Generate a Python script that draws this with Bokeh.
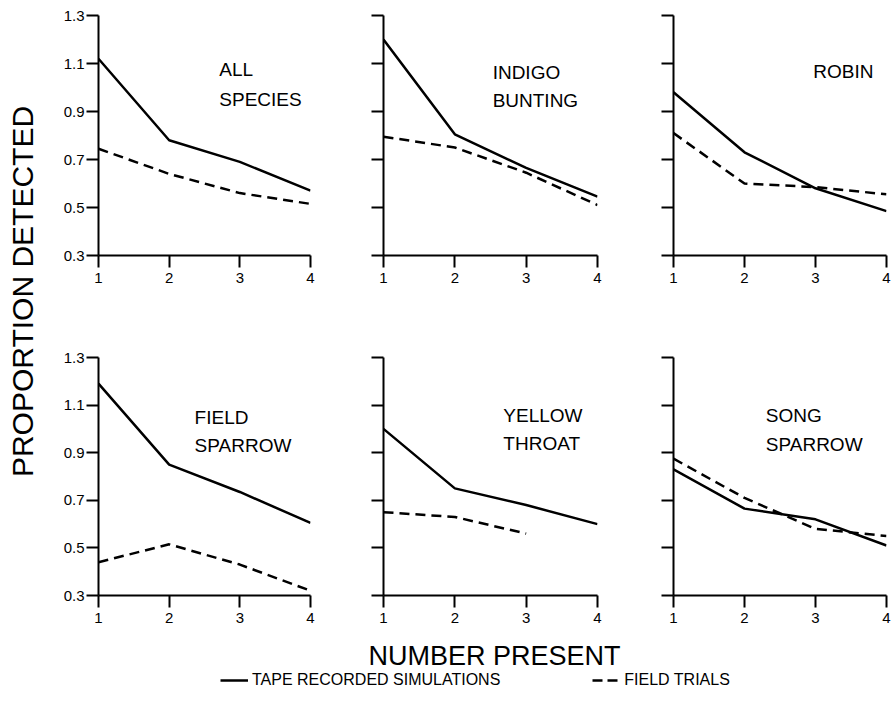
from bokeh.plotting import figure
from bokeh.layouts import row, column
from bokeh.models import Range1d, FixedTicker, Label, Legend, LegendItem
from bokeh.embed import file_html
from bokeh.resources import INLINE

# ---------------- data ----------------
number_present = [1, 2, 3, 4]
y_ticks = [0.3, 0.5, 0.7, 0.9, 1.1, 1.3]

all_species_tape = [1.12, 0.78, 0.69, 0.57]
all_species_field = [0.745, 0.64, 0.56, 0.515]
indigo_tape = [1.20, 0.805, 0.665, 0.545]
indigo_field = [0.795, 0.75, 0.645, 0.51]
robin_tape = [0.98, 0.73, 0.58, 0.485]
robin_field = [0.81, 0.60, 0.585, 0.555]
field_sparrow_tape = [1.19, 0.85, 0.735, 0.605]
field_sparrow_field = [0.44, 0.515, 0.43, 0.32]
yellowthroat_tape = [1.0, 0.75, 0.68, 0.60]
yellowthroat_field = [0.65, 0.63, 0.56]
song_sparrow_tape = [0.83, 0.665, 0.62, 0.51]
song_sparrow_field = [0.875, 0.71, 0.58, 0.55]

panel_names = [["ALL", "SPECIES"], ["INDIGO", "BUNTING"], ["ROBIN"],
               ["FIELD", "SPARROW"], ["YELLOW", "THROAT"], ["SONG", "SPARROW"]]
tape_series = [all_species_tape, indigo_tape, robin_tape,
               field_sparrow_tape, yellowthroat_tape, song_sparrow_tape]
field_series = [all_species_field, indigo_field, robin_field,
                field_sparrow_field, yellowthroat_field, song_sparrow_field]

legend_labels = ["TAPE RECORDED SIMULATIONS", "FIELD TRIALS"]

# label anchor positions (layout only)
label_x = [2.71, 2.53, 2.97, 2.36, 2.68, 2.30]
label_y = [[1.075, 0.95], [1.0625, 0.946], [1.067], [1.048, 0.93], [1.056, 0.939], [1.056, 0.935]]

FONT = "Liberation Sans"
FRAME_W = [212, 214, 213]
BORDER_L = [60, 30, 30]
BORDER_R = [43, 46, 5]

def make_panel(i, height, top, bottom):
    c = i % 3
    left, right, fw = BORDER_L[c], BORDER_R[c], FRAME_W[c]
    p = figure(width=left + fw + right, height=height,
               x_range=Range1d(1, 4), y_range=Range1d(0.3, 1.3),
               output_backend="svg", toolbar_location=None,
               min_border_left=left, min_border_right=right,
               min_border_top=top, min_border_bottom=bottom)
    p.outline_line_color = None
    p.grid.visible = False
    p.background_fill_color = "white"
    for ax in (p.xaxis[0], p.yaxis[0]):
        ax.axis_line_width = 2
        ax.axis_line_color = "black"
        ax.major_tick_line_width = 2
        ax.major_tick_line_color = "black"
        ax.major_tick_in = 0
        ax.major_tick_out = 12
        ax.minor_tick_line_color = None
        ax.major_label_text_font = FONT
        ax.major_label_text_font_size = "15px"
        ax.major_label_text_color = "black"
    p.xaxis.ticker = FixedTicker(ticks=number_present)
    p.yaxis.ticker = FixedTicker(ticks=y_ticks)
    p.xaxis.major_label_standoff = 5
    p.yaxis.major_label_standoff = 2
    if c != 0:
        p.yaxis.major_label_text_font_size = "0px"
        p.yaxis.major_label_text_color = None

    p.line(number_present, tape_series[i], line_color="black", line_width=2.5)
    fx = number_present[:len(field_series[i])]
    p.line(fx, field_series[i], line_color="black", line_width=2.5, line_dash="10 6")

    for j, name in enumerate(panel_names[i]):
        p.add_layout(Label(x=label_x[i], y=label_y[i][j], text=name,
                           text_font=FONT, text_font_size="19px",
                           text_color="black", text_align="left",
                           text_baseline="alphabetic"))
    return p

top_panels = [make_panel(i, 305, 15, 50) for i in range(3)]
bot_panels = [make_panel(i, 326, 52, 36) for i in range(3, 6)]

# y-axis title
ylab = figure(width=38, height=631, x_range=Range1d(0, 38), y_range=Range1d(0, 631),
              output_backend="svg", toolbar_location=None, min_border=0)
ylab.axis.visible = False
ylab.grid.visible = False
ylab.outline_line_color = None
ylab.add_layout(Label(x=22, y=340, text="PROPORTION DETECTED", angle=1.5708,
                      text_font=FONT, text_font_size="30px", text_color="black",
                      text_align="center", text_baseline="middle"))

# bottom: x-axis title + legend
bot = figure(width=853, height=62, x_range=Range1d(0, 853), y_range=Range1d(0, 62),
             output_backend="svg", toolbar_location=None, min_border=0)
bot.axis.visible = False
bot.grid.visible = False
bot.outline_line_color = None
bot.add_layout(Label(x=456, y=38, text="NUMBER PRESENT", text_font=FONT,
                     text_font_size="27px", text_color="black",
                     text_align="center", text_baseline="alphabetic"))
nan = float("nan")
r_tape = bot.line([nan], [nan], line_color="black", line_width=2.5)
r_field = bot.line([nan], [nan], line_color="black", line_width=2.5, line_dash="10 5")
legend = Legend(items=[LegendItem(label=legend_labels[0], renderers=[r_tape]),
                       LegendItem(label=legend_labels[1], renderers=[r_field])],
                orientation="horizontal", location=(182, 3),
                glyph_width=28, label_standoff=4, spacing=92, padding=0, margin=0,
                label_text_font=FONT, label_text_font_size="16px",
                label_text_color="black",
                border_line_color=None, background_fill_color=None)
bot.add_layout(legend)

layout = row(ylab, column(row(*top_panels), row(*bot_panels), bot))

open("out.html", "w").write(file_html(layout, INLINE))
